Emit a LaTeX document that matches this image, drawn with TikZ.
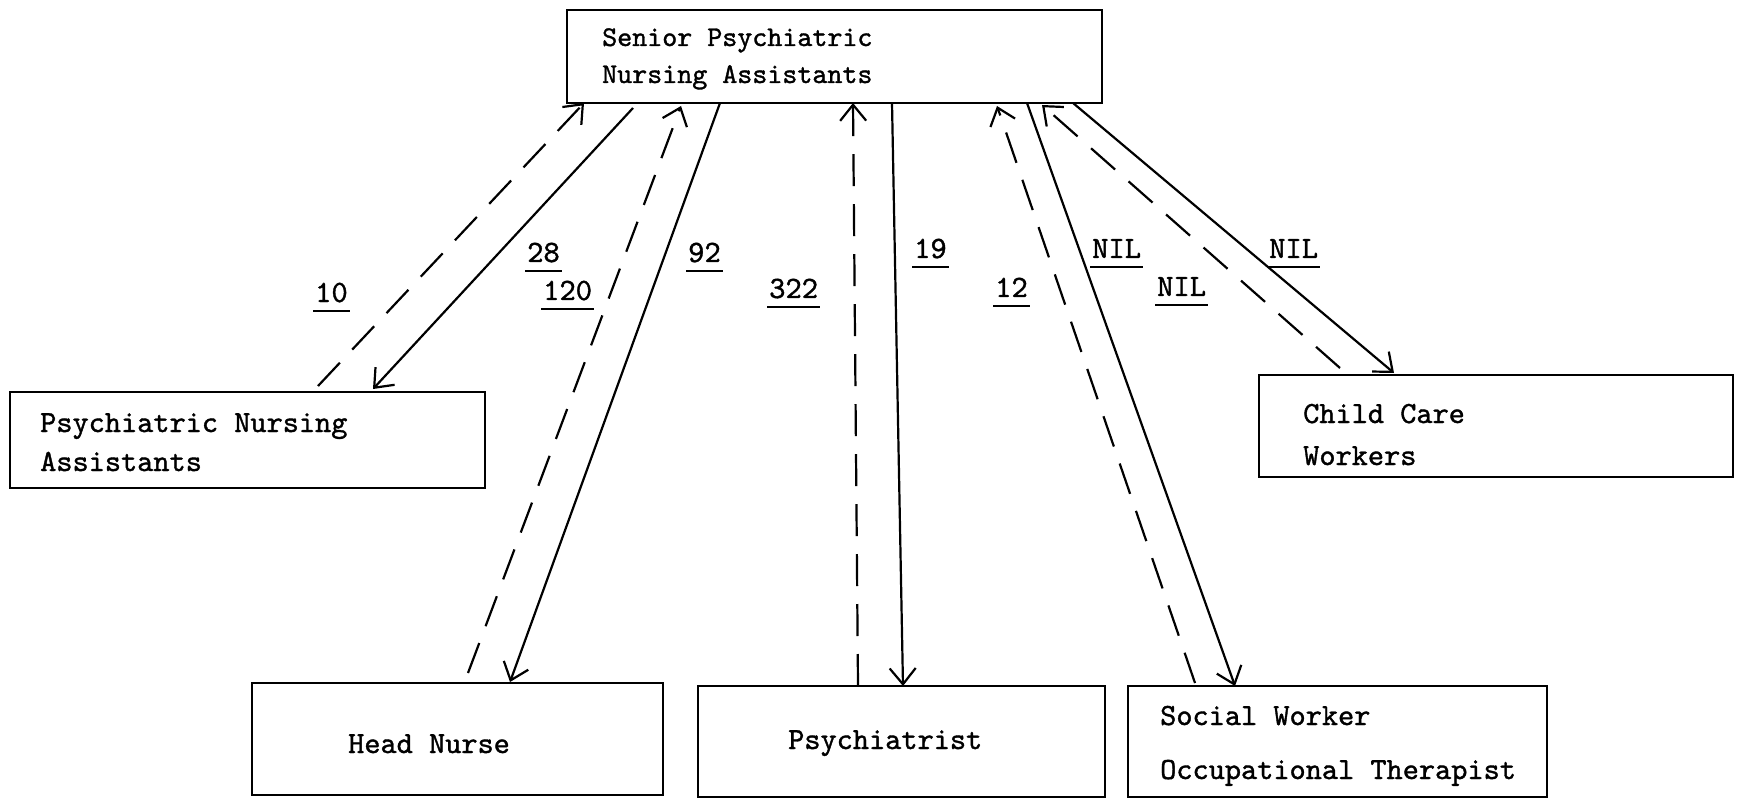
\documentclass[tikz,border=0pt]{standalone}
\usepackage{fontspec}
\usetikzlibrary{arrows.meta,calc}

% slightly heavier typewriter face
\newfontfamily\typew{lmmono10-regular.otf}[FakeBold=1.2]

% underlined flow count, rule set a little below the baseline
\newcommand{\flowcount}[1]{\setbox0\hbox{#1}\rlap{\kern-2pt\rule[-10pt]{\dimexpr\wd0+4pt\relax}{2.2pt}}\box0}

\tikzset{
  unitbox/.style={draw=black, line width=2.2pt, rectangle, inner sep=0pt, outer sep=0pt},
  boxtext/.style={anchor=base west, inner sep=0pt, font=\typew\fontsize{30.8}{36}\selectfont},
  toptext/.style={anchor=base west, inner sep=0pt, font=\typew\fontsize{28.6}{34}\selectfont},
  countlbl/.style={anchor=base west, inner sep=0pt, font=\typew\fontsize{31}{36}\selectfont},
  tip/.style={-{Straight Barb[length=16pt,width=26pt,line width=2.2pt]}},
  sent/.style={black, line width=2.2pt, tip},
  received/.style={black, line width=2.2pt, tip, dash pattern=on 32pt off 18pt}
}

\begin{document}
\begin{tikzpicture}[x=1pt, y=-1pt]
\useasboundingbox (0,0) rectangle (1744,799);

% ---- boxes ----
\node[unitbox, minimum width=535pt, minimum height=93pt]  (spna) at (834.5,56.5) {};
\node[unitbox, minimum width=475pt, minimum height=96pt]  (pna)  at (247.5,440)  {};
\node[unitbox, minimum width=474pt, minimum height=102pt] (ccw)  at (1496,426)   {};
\node[unitbox, minimum width=411pt, minimum height=112pt] (hn)   at (457.5,739)  {};
\node[unitbox, minimum width=407pt, minimum height=111pt] (psy)  at (901.5,741.5) {};
\node[unitbox, minimum width=419pt, minimum height=111pt] (sw)   at (1337.5,741.5) {};

% ---- box texts ----
\node[toptext] (spna1) at (602,46) {Senior Psychiatric};
\node[toptext] (spna2) at (602,83) {Nursing Assistants};
\node[boxtext] (pna1) at (40,432) {Psychiatric Nursing};
\node[boxtext] (pna2) at (40,471) {Assistants};
\node[boxtext] (ccw1) at (1303,423) {Child Care};
\node[boxtext] (ccw2) at (1303,465) {Workers};
\node[boxtext] (hn1)  at (348,753) {Head Nurse};
\node[boxtext] (psy1) at (788,749) {Psychiatrist};
\node[boxtext] (sw1)  at (1160,725) {Social Worker};
\node[boxtext] (sw2)  at (1160,779) {Occupational Therapist};

% ---- connectors: dashed = towards the senior assistants, solid = from them ----
\draw[received] ($(pna.north west)+(308,-6)$) -- ($(spna.south west)+(17,0)$);
\draw[sent]     ($(spna.south west)+(66,5)$)  -- ($(pna.north west)+(363,-3)$);

\draw[received] ($(hn.north west)+(216,-10)$) -- ($(spna.south west)+(114,3)$);
\draw[sent]     ($(spna.south west)+(153,0)$) -- ($(hn.north west)+(258,-1)$);

\draw[received] ($(psy.north west)+(160,0)$)  -- ($(spna.south west)+(286,0)$);
\draw[sent]     ($(spna.south west)+(325,0)$) -- ($(psy.north west)+(205,0)$);

\draw[received] ($(sw.north west)+(67,-3)$)   -- ($(spna.south west)+(430,3)$);
\draw[sent]     ($(spna.south west)+(460,0)$) -- ($(sw.north west)+(107,0)$);

\draw[received] ($(ccw.north west)+(81,-7)$)  -- ($(spna.south west)+(475,2)$);
\draw[sent]     ($(spna.south west)+(506,0)$) -- ($(ccw.north west)+(135,-2)$);

% ---- counts ----
\node[countlbl] (c10)  at (315,302)  {\flowcount{10}};
\node[countlbl] (c28)  at (527,262)  {\flowcount{28}};
\node[countlbl] (c120) at (543,300)  {\flowcount{120}};
\node[countlbl] (c92)  at (688,262)  {\flowcount{92}};
\node[countlbl] (c322) at (769,298)  {\flowcount{322}};
\node[countlbl] (c19)  at (914,258)  {\flowcount{19}};
\node[countlbl] (c12)  at (995,297)  {\flowcount{12}};
\node[countlbl] (nil1) at (1092,258) {\flowcount{NIL}};
\node[countlbl] (nil2) at (1157,296) {\flowcount{NIL}};
\node[countlbl] (nil3) at (1269,258) {\flowcount{NIL}};
\end{tikzpicture}
\end{document}
